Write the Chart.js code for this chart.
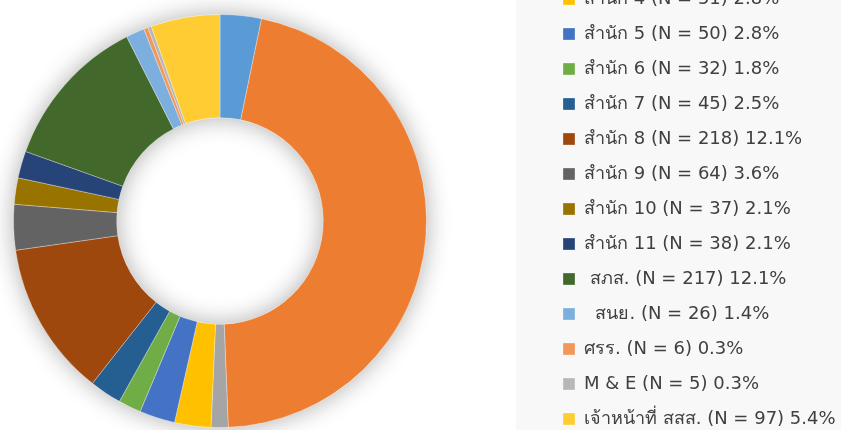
<!DOCTYPE html>
<html>
<head>
<meta charset="utf-8">
<script src="https://cdn.jsdelivr.net/npm/chart.js@4/dist/chart.umd.min.js"></script>
<style>
  html, body { margin: 0; padding: 0; }
  body {
    width: 841px; height: 430px; overflow: hidden; position: relative;
    background: linear-gradient(to right, #ffffff 516px, #f8f8f8 516px);
  }
  #wrap { position: absolute; left: -106px; top: -132px; width: 1000px; height: 706px; }
</style>
</head>
<body>
<div id="wrap"><canvas id="chart-donut"></canvas></div>
<script>
const hnuay = [
  'สำนัก 1', 'สำนัก 2', 'สำนัก 3', 'สำนัก 4', 'สำนัก 5', 'สำนัก 6', 'สำนัก 7', 'สำนัก 8',
  'สำนัก 9', 'สำนัก 10', 'สำนัก 11', ' สภส.', '  สนย.', 'ศรร.', 'M & E', 'เจ้าหน้าที่ สสส.'
];
const jamnuan = [58, 829, 24, 51, 50, 32, 45, 218, 64, 37, 38, 217, 26, 6, 5, 97];
const percent = ['3.2', '46.1', '1.3', '2.8', '2.8', '1.8', '2.5', '12.1', '3.6', '2.1', '2.1', '12.1', '1.4', '0.3', '0.3', '5.4'];
const sii = [
  '#5B9BD5', '#ED7D31', '#A5A5A5', '#FFC000', '#4472C4', '#70AD47', '#255E91', '#9E480E',
  '#636363', '#997300', '#264478', '#43682B', '#7CAFDD', '#F1975A', '#B7B7B7', '#FFCD33'
];

const labels = hnuay.map((h, i) => h + ' (N = ' + jamnuan[i] + ') ' + percent[i] + '%');

// เงาวงแหวนแบบ Excel
const ringShadow = {
  id: 'ringShadow',
  beforeDatasetsDraw(chart) {
    const a = chart.getDatasetMeta(0).data[0];
    if (!a) return;
    const ctx = chart.ctx;
    ctx.save();
    ctx.shadowColor = 'rgba(0,0,0,0.32)';
    ctx.shadowBlur = 24;
    ctx.fillStyle = '#ffffff';
    ctx.beginPath();
    ctx.arc(a.x, a.y, a.outerRadius, 0, Math.PI * 2);
    ctx.arc(a.x, a.y, a.innerRadius, 0, Math.PI * 2, true);
    ctx.fill();
    ctx.restore();
  }
};

// ความกว้าง legend คงที่
const legendWidth = {
  id: 'legendWidth',
  beforeInit(chart) {
    const fit = chart.legend.fit;
    chart.legend.fit = function () {
      fit.call(this);
      this.width = 348;
    };
  }
};

new Chart(document.getElementById('chart-donut'), {
  type: 'doughnut',
  data: {
    labels: labels,
    datasets: [{
      data: jamnuan,
      backgroundColor: sii,
      borderColor: 'rgba(255,255,255,0.6)',
      borderWidth: 0.5
    }]
  },
  options: {
    responsive: true,
    maintainAspectRatio: false,
    animation: false,
    radius: 206.5,
    cutout: '50%',
    events: [],
    layout: { padding: 0 },
    plugins: {
      tooltip: { enabled: false },
      legend: {
        position: 'right',
        align: 'start',
        labels: {
          boxWidth: 12,
          boxHeight: 12,
          padding: 17,
          color: '#404040',
          font: { family: '"DejaVu Sans", sans-serif', size: 18 }
        }
      }
    }
  },
  plugins: [ringShadow, legendWidth]
});
</script>
</body>
</html>
